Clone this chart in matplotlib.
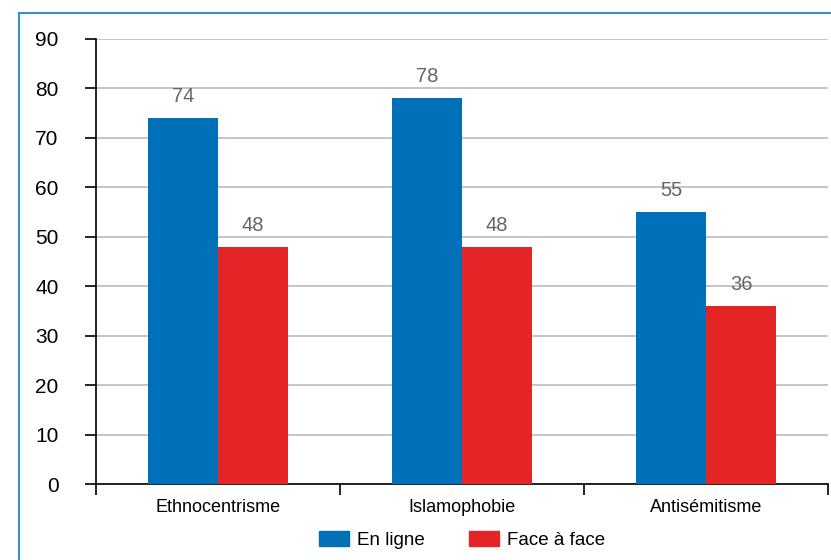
import matplotlib.pyplot as plt
import numpy as np
from matplotlib.patches import Patch
from matplotlib.lines import Line2D

categories = ["Ethnocentrisme", "Islamophobie", "Antisémitisme"]
en_ligne = [74, 78, 55]
face_a_face = [48, 48, 36]
yticks = [0, 10, 20, 30, 40, 50, 60, 70, 80, 90]

plt.rcParams["font.family"] = ["Liberation Sans", "DejaVu Sans"]

blue = "#0070b9"
red = "#e32526"

fig = plt.figure(figsize=(8.31, 5.6), dpi=100)
ax = fig.add_axes([96 / 831, 1 - 484 / 560, 732 / 831, 445 / 560])

x = np.arange(len(categories))
w = 0.287
b1 = ax.bar(x - w / 2, en_ligne, w, color=blue, linewidth=0, zorder=3)
b2 = ax.bar(x + w / 2, face_a_face, w, color=red, linewidth=0, zorder=3)

for bars, vals in ((b1, en_ligne), (b2, face_a_face)):
    for rect, v in zip(bars, vals):
        ax.text(rect.get_x() + rect.get_width() / 2, v + 2.4, str(v),
                ha="center", va="bottom", fontsize=14.5, color="#666666")

ax.set_xlim(-0.5, 2.5)
ax.set_ylim(0, 90)
ax.set_yticks(yticks)
ax.set_yticklabels([str(t) for t in yticks], fontsize=15)
ax.yaxis.grid(True, color="#bbbbbb", linewidth=1.2, zorder=0)
ax.tick_params(axis="y", length=8, width=1.2, pad=19, direction="out")

# category ticks sit on the group boundaries, labels in between
ax.set_xticks([-0.5, 0.5, 1.5, 2.5])
ax.set_xticklabels([])
ax.set_xticks(x, minor=True)
ax.set_xticklabels(categories, minor=True, fontsize=13)
ax.tick_params(axis="x", which="major", length=8, width=1.2, direction="out")
ax.tick_params(axis="x", which="minor", length=0, pad=11)

for s in ("top", "right"):
    ax.spines[s].set_visible(False)
for s in ("left", "bottom"):
    ax.spines[s].set_linewidth(1.2)

handles = [Patch(color=blue, label="En ligne"), Patch(color=red, label="Face à face")]
fig.legend(handles=handles, loc="center", bbox_to_anchor=(462 / 831, 1 - 540 / 560),
           ncol=2, frameon=False, fontsize=13.5, handlelength=1.6, handleheight=0.8,
           columnspacing=2.4, handletextpad=0.4)

# thin blue frame along the left and top edge
frame_c = "#3a8fd2"
fig.add_artist(Line2D([19 / 831, 19 / 831], [0, 1 - 13 / 560], color=frame_c, lw=1.5,
                      transform=fig.transFigure))
fig.add_artist(Line2D([19 / 831, 1], [1 - 13 / 560, 1 - 13 / 560], color=frame_c, lw=1.5,
                      transform=fig.transFigure))

fig.savefig("out.png", dpi=100)
